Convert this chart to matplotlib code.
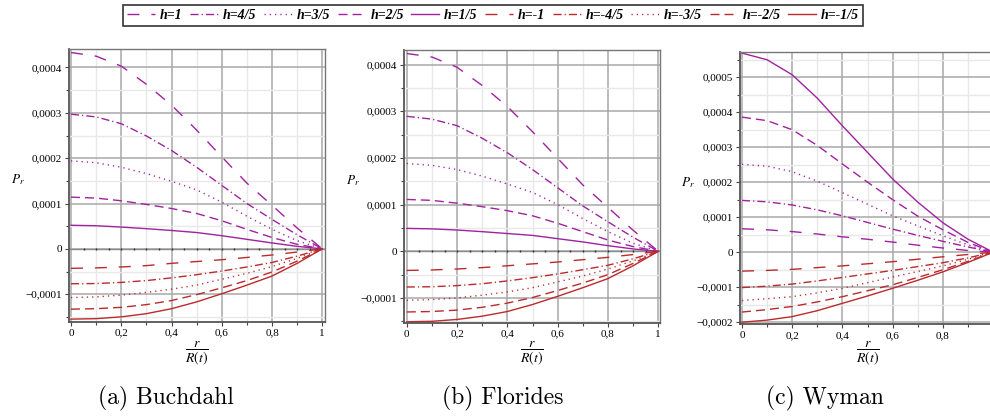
import numpy as np
import matplotlib
matplotlib.use('Agg')
import matplotlib.pyplot as plt
from matplotlib.ticker import MultipleLocator, FuncFormatter
from matplotlib.font_manager import FontProperties

plt.rcParams['font.family'] = 'Liberation Serif'
plt.rcParams['mathtext.fontset'] = 'stix'

# r / R(t)
r = [0.0, 0.1, 0.2, 0.3, 0.4, 0.5, 0.6, 0.7, 0.8, 0.9, 1.0]

pos_labels = ['h=1', 'h=4/5', 'h=3/5', 'h=2/5', 'h=1/5']
neg_labels = ['h=-1', 'h=-4/5', 'h=-3/5', 'h=-2/5', 'h=-1/5']

# P_r in units of 1e-4, one row per h (same order as the labels)
buchdahl_pos = [
    [4.33, 4.25, 4.03, 3.63, 3.17, 2.62, 2.03, 1.45, 0.96, 0.46, 0],
    [2.97, 2.91, 2.76, 2.49, 2.17, 1.80, 1.40, 1.00, 0.65, 0.31, 0],
    [1.94, 1.90, 1.80, 1.66, 1.49, 1.30, 1.03, 0.72, 0.43, 0.18, 0],
    [1.14, 1.12, 1.06, 0.98, 0.89, 0.78, 0.62, 0.43, 0.25, 0.10, 0],
    [0.52, 0.51, 0.48, 0.445, 0.405, 0.36, 0.29, 0.21, 0.13, 0.055, 0],
]
buchdahl_neg = [
    [-0.43, -0.42, -0.40, -0.37, -0.32, -0.28, -0.24, -0.19, -0.135, -0.07, 0],
    [-0.77, -0.765, -0.74, -0.70, -0.64, -0.57, -0.49, -0.40, -0.30, -0.16, 0],
    [-1.075, -1.06, -1.02, -0.96, -0.89, -0.80, -0.67, -0.54, -0.39, -0.21, 0],
    [-1.33, -1.32, -1.29, -1.23, -1.14, -1.01, -0.86, -0.70, -0.51, -0.27, 0],
    [-1.55, -1.54, -1.50, -1.43, -1.32, -1.17, -0.99, -0.80, -0.60, -0.32, 0],
]

florides_pos = [
    [4.235, 4.16, 3.94, 3.55, 3.10, 2.56, 1.99, 1.42, 0.94, 0.45, 0],
    [2.89, 2.83, 2.69, 2.42, 2.11, 1.75, 1.36, 0.97, 0.63, 0.30, 0],
    [1.88, 1.84, 1.75, 1.61, 1.44, 1.26, 1.00, 0.70, 0.42, 0.17, 0],
    [1.11, 1.09, 1.03, 0.955, 0.87, 0.76, 0.60, 0.42, 0.24, 0.10, 0],
    [0.49, 0.48, 0.455, 0.42, 0.38, 0.34, 0.27, 0.20, 0.12, 0.05, 0],
]
florides_neg = [
    [-0.41, -0.40, -0.38, -0.35, -0.31, -0.27, -0.23, -0.18, -0.13, -0.07, 0],
    [-0.765, -0.76, -0.735, -0.695, -0.635, -0.565, -0.485, -0.395, -0.30, -0.16, 0],
    [-1.05, -1.035, -1.00, -0.94, -0.87, -0.78, -0.655, -0.53, -0.38, -0.205, 0],
    [-1.30, -1.29, -1.26, -1.20, -1.11, -0.99, -0.84, -0.68, -0.50, -0.26, 0],
    [-1.51, -1.50, -1.46, -1.39, -1.29, -1.14, -0.965, -0.78, -0.585, -0.31, 0],
]

wyman_pos = [
    [0.67, 0.64, 0.59, 0.52, 0.44, 0.37, 0.29, 0.20, 0.12, 0.05, 0],
    [1.48, 1.44, 1.35, 1.21, 1.04, 0.85, 0.66, 0.48, 0.31, 0.15, 0],
    [2.51, 2.46, 2.30, 2.03, 1.70, 1.37, 1.04, 0.75, 0.47, 0.21, 0],
    [3.86, 3.76, 3.50, 3.05, 2.52, 2.00, 1.50, 1.03, 0.64, 0.28, 0],
    [5.69, 5.50, 5.07, 4.40, 3.61, 2.85, 2.09, 1.43, 0.84, 0.37, 0],
]
wyman_neg = [
    [-0.54, -0.52, -0.49, -0.44, -0.39, -0.33, -0.27, -0.20, -0.13, -0.065, 0],
    [-1.01, -0.97, -0.91, -0.82, -0.72, -0.62, -0.52, -0.41, -0.30, -0.16, 0],
    [-1.38, -1.33, -1.27, -1.16, -1.03, -0.87, -0.71, -0.55, -0.39, -0.20, 0],
    [-1.71, -1.64, -1.55, -1.42, -1.27, -1.10, -0.93, -0.72, -0.50, -0.26, 0],
    [-2.00, -1.94, -1.84, -1.67, -1.46, -1.25, -1.03, -0.80, -0.56, -0.29, 0],
]

purple = '#a0229f'
red = '#bb2a2c'
styles = [(0, (8.6, 8.6)), (0, (5.8, 2.2, 0.9, 2.2)), (0, (0.9, 2.9)),
          (0, (6.5, 3.6)), '-']

# caption, data, axes rect, xlim, ylim, zero axis, caption x (px), show x=1 label
panels = [
    ('(a) Buchdahl', buchdahl_pos, buchdahl_neg, [0.0697, 0.2322, 0.2586, 0.650],
     (-0.008, 1.011), (-1.607e-4, 4.40e-4), True, 166, True),
    ('(b) Florides', florides_pos, florides_neg, [0.4081, 0.2298, 0.2586, 0.6508],
     (-0.011, 1.007), (-1.53e-4, 4.31e-4), True, 503, True),
    ('(c) Wyman', wyman_pos, wyman_neg, [0.7472, 0.226, 0.2586, 0.6506],
     (-0.009, 1.01), (-2.06e-4, 5.73e-4), False, 825, False),
]


def fmt_y(v, pos):
    if abs(v) < 1e-12:
        return '0'
    return f'{v:.4f}'.replace('.', ',').replace('-', '\u2212')


def make_fmt_x(show_one):
    def fmt_x(v, pos):
        if abs(v) < 1e-9:
            return '0'
        if abs(v - 1) < 1e-9:
            return '1' if show_one else ''
        return f'{v:.1f}'.replace('.', ',')
    return fmt_x


fig = plt.figure(figsize=(9.9, 4.19), dpi=100)

handles = []
for k, (caption, up, down, rect, xl, yl, zero_axis, cap_x, show_one) in enumerate(panels):
    ax = fig.add_axes(rect)
    for i in range(5):
        ln, = ax.plot(r, np.array(up[i]) * 1e-4, color=purple, lw=1.0,
                      ls=styles[i])
        if k == 0:
            handles.append((ln, pos_labels[i]))
    for i in range(5):
        ln, = ax.plot(r, np.array(down[i]) * 1e-4, color=red, lw=1.0,
                      ls=styles[i])
        if k == 0:
            handles.append((ln, neg_labels[i]))

    if zero_axis:
        # horizontal axis through zero with small tick dots
        ax.axhline(0, color='#8c8c8c', lw=1.0, zorder=1.5)
        ticks = np.arange(0.05, 1.0, 0.05)
        ax.plot(ticks, np.zeros_like(ticks), ls='none', marker='|', ms=1.6,
                mew=1.0, color='#333333', zorder=1.6)

    ax.set_xlim(*xl)
    ax.set_ylim(*yl)
    ax.xaxis.set_major_locator(MultipleLocator(0.2))
    ax.xaxis.set_minor_locator(MultipleLocator(0.1))
    ax.yaxis.set_major_locator(MultipleLocator(1e-4))
    ax.yaxis.set_minor_locator(MultipleLocator(5e-5))
    ax.xaxis.set_major_formatter(FuncFormatter(make_fmt_x(show_one)))
    ax.yaxis.set_major_formatter(FuncFormatter(fmt_y))
    ax.set_axisbelow(True)
    ax.grid(which='major', color='#a8a8a8', lw=1.1)
    ax.grid(which='minor', color='#e8e8e8', lw=1.0)
    ax.tick_params(which='both', labelsize=8, color='#444444', width=0.8,
                   pad=2)
    ax.tick_params(which='major', length=3)
    ax.tick_params(which='minor', length=2)
    for side in ['top', 'right']:
        ax.spines[side].set_color('#777777')
        ax.spines[side].set_linewidth(1.0)
    for side in ['left', 'bottom']:
        ax.spines[side].set_color('#555555')
        ax.spines[side].set_linewidth(1.3)

    cx = rect[0] + rect[2] / 2
    fig.text(rect[0] - 0.052, rect[1] + rect[3] * 0.52, r'$P_r$', fontsize=9.5,
             ha='center', va='center')
    fig.text(cx, 1 - 353 / 419, r'$\dfrac{r}{R(t)}$', fontsize=10,
             ha='center', va='center')
    fig.text(cap_x / 990, 1 - 398 / 419, caption, family='cmr10', fontsize=17,
             ha='center', va='center')

leg_font = FontProperties(family='Liberation Serif', weight='bold',
                          style='italic', size=10)
leg = fig.legend([h for h, _ in handles], [t for _, t in handles], ncol=10,
                 loc='center', bbox_to_anchor=(0.498, 0.963), prop=leg_font,
                 frameon=True, fancybox=False, handlelength=2.0,
                 handletextpad=0.35, columnspacing=0.55, borderpad=0.3,
                 borderaxespad=0)
leg.get_frame().set_edgecolor('black')
leg.get_frame().set_linewidth(1.2)

fig.savefig('out.png', dpi=100)
